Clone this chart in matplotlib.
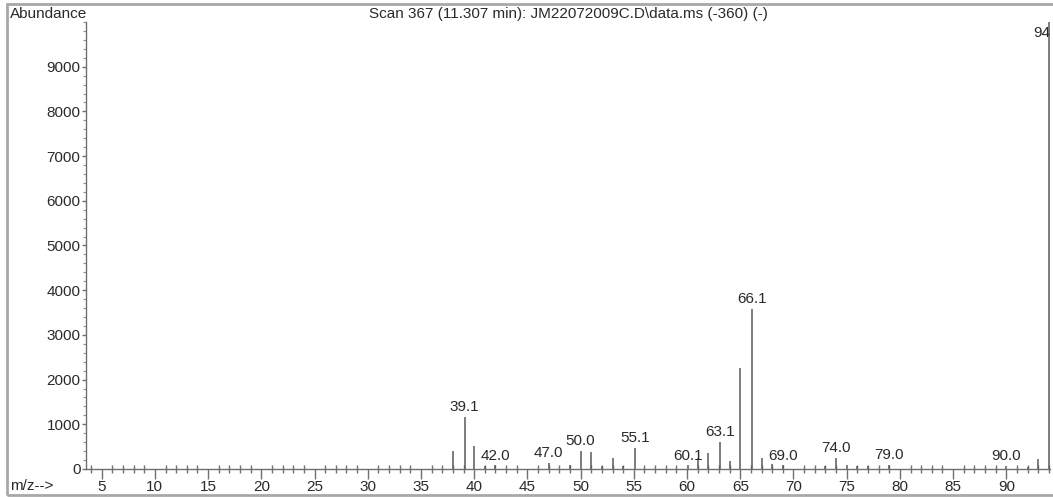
import numpy as np
import matplotlib
matplotlib.use("Agg")
import matplotlib.pyplot as plt
from matplotlib.patches import Rectangle
from matplotlib.ticker import MultipleLocator

plt.rcParams['font.family'] = ['Liberation Sans', 'DejaVu Sans']

# spectre (m/z, abondance)
mz = [38, 39.1, 40, 41, 42.0, 47.0, 49, 50.0, 51, 52, 53, 54, 55.1,
      60.1, 61, 62, 63.1, 64, 65, 66.1, 67, 68, 69.0, 73, 74.0, 75,
      76, 77, 79.0, 90.0, 92, 93, 94]
abundance = [400, 1160, 510, 60, 80, 130, 90, 400, 370, 60, 240, 60, 470,
             80, 240, 350, 600, 180, 2250, 3575, 240, 110, 80, 70, 240, 90,
             60, 60, 100, 70, 50, 220, 10000]

# pics annotés
labels_mz = [39.1, 42.0, 47.0, 50.0, 55.1, 60.1, 63.1, 66.1, 69.0, 74.0, 79.0, 90.0]
labels_ab = [1160, 80, 130, 400, 470, 80, 600, 3575, 80, 240, 100, 70]

title = r"Scan 367 (11.307 min): JM22072009C.D\data.ms (-360) (-)"

txt_col = '#2a2a2a'
line_col = '#5a5a5a'
fs = 11

fig = plt.figure(figsize=(10.53, 4.97), dpi=100)
ax = fig.add_axes([86/1053, 28/497, (1050-86)/1053, (469-22)/497])

ax.vlines(mz, 0, abundance, color=line_col, linewidth=1.1)

for m, a in zip(labels_mz, labels_ab):
    ax.annotate(f"{m:.1f}", (m, a), xytext=(0, 2), textcoords='offset points',
                ha='center', va='bottom', fontsize=fs, color=txt_col)
ax.annotate("94", (94, 10000), xytext=(1, -3), textcoords='offset points',
            ha='right', va='top', fontsize=fs, color=txt_col)

ax.set_xlim(3.53, 94.1)
ax.set_ylim(0, 10000)

ax.spines['top'].set_visible(False)
ax.spines['right'].set_visible(False)
for s in ['left', 'bottom']:
    ax.spines[s].set_color('#707070')
    ax.spines[s].set_linewidth(1.0)

ax.xaxis.set_minor_locator(MultipleLocator(1))
ax.set_xticks(np.arange(5, 95, 5))
ax.yaxis.set_minor_locator(MultipleLocator(200))
ax.set_yticks(np.arange(0, 10000, 1000))

ax.tick_params(axis='x', which='major', direction='out', length=7, width=1,
               color='#707070', labelsize=fs, labelcolor=txt_col, pad=1)
ax.tick_params(axis='x', which='minor', direction='inout', length=6, width=1,
               color='#707070')
ax.tick_params(axis='y', which='major', direction='out', length=3, width=1,
               color='#707070', labelsize=fs, labelcolor=txt_col, pad=1)
ax.tick_params(axis='y', which='minor', direction='out', length=2, width=0.8,
               color='#909090')

fig.text(10/1053, 1 - 14/497, "Abundance", ha='left', va='center',
         fontsize=fs, color=txt_col)
fig.text(568/1053, 1 - 14/497, title, ha='center', va='center',
         fontsize=fs, color=txt_col)
fig.text(10/1053, 1 - 486/497, "m/z-->", ha='left', va='center',
         fontsize=fs, color=txt_col)

# cadre gris extérieur
fig.patches.append(Rectangle((7/1053, 2/497), 1.1, 1 - 6/497,
                             transform=fig.transFigure, fill=False,
                             edgecolor='#a8a8a8', linewidth=2))

fig.savefig("out.png", dpi=100)
